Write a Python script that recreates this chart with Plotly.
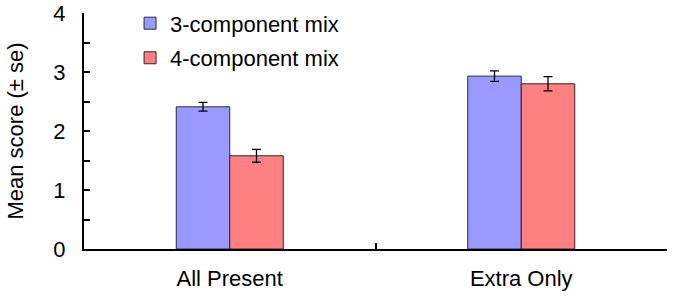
import plotly.graph_objects as go

categories = ["All Present", "Extra Only"]
series_names = ["3-component mix", "4-component mix"]
mix3_values = [2.41, 2.93]
mix3_se = [0.074, 0.088]
mix4_values = [1.58, 2.80]
mix4_se = [0.11, 0.12]
y_tick_vals = [0, 1, 2, 3, 4]
y_tick_text = ["0", "1", "2", "3", "4"]

FONT = "Liberation Sans, Arial, sans-serif"

fig = go.Figure()
fig.add_trace(go.Bar(
    x=categories, y=mix3_values, name=series_names[0], legendgroup="a",
    marker=dict(color="#9999FF", line=dict(color="#2a2a50", width=1)),
    error_y=dict(type="data", array=mix3_se, color="black", thickness=1.3, width=4.5),
))
fig.add_trace(go.Bar(
    x=categories, y=mix4_values, name=series_names[1], legendgroup="b",
    marker=dict(color="#FF8080", line=dict(color="#3a2020", width=1)),
    error_y=dict(type="data", array=mix4_se, color="black", thickness=1.3, width=4.5),
))

fig.update_layout(
    width=674, height=298,
    margin=dict(l=84, r=7, t=13, b=49, autoexpand=False),
    paper_bgcolor="white", plot_bgcolor="white",
    font=dict(family=FONT, size=22, color="black"),
    barmode="group", bargap=0.633, bargroupgap=0,
    showlegend=True,
    legend=dict(x=0.079, y=1.045, xanchor="left", yanchor="top",
                bgcolor="rgba(0,0,0,0)", font=dict(size=22),
                tracegroupgap=3, traceorder="grouped"),
    xaxis=dict(range=[-0.5, 1.5], showline=True, linecolor="black", linewidth=2,
               ticks="inside", tickson="boundaries", ticklen=6, tickwidth=2,
               tickcolor="black", showgrid=False, zeroline=False, automargin=False,
               tickfont=dict(size=22), ticklabelstandoff=9),
    yaxis=dict(range=[0, 4], showline=True, linecolor="black", linewidth=2,
               ticks="inside", ticklen=6, tickwidth=2, tickcolor="black",
               tickvals=y_tick_vals, ticktext=y_tick_text, automargin=False,
               minor=dict(ticks="inside", dtick=0.5, ticklen=6, tickwidth=2, tickcolor="black", showgrid=False),
               showgrid=False, zeroline=False, tickfont=dict(size=22),
               ticklabelstandoff=12,
               title=dict(text="Mean score (± se)", font=dict(size=22), standoff=24)),
)

fig.write_html("out.html", config={"displayModeBar": False},
               post_script="document.body.style.margin='0px';")
